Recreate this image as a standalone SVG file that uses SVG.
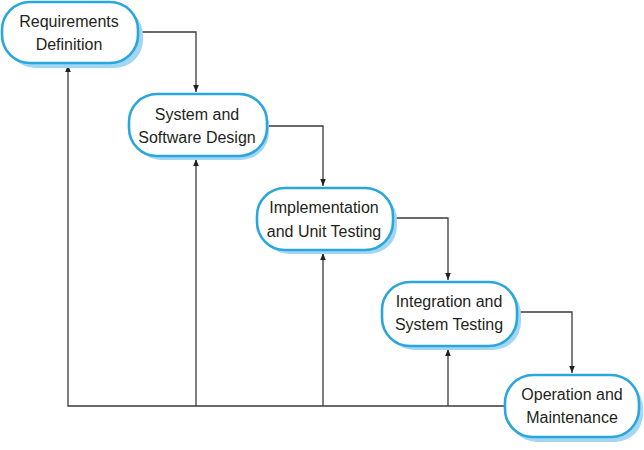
<svg xmlns="http://www.w3.org/2000/svg" width="644" height="450" viewBox="0 0 644 450">
<style>
.box{fill:#fff;stroke:#2aa6df;stroke-width:2.6}
.shadow{fill:#a3d6f0}
.lbl{font-family:"Liberation Sans",Arial,sans-serif;font-size:16px;fill:#231f20;text-anchor:middle}
.conn{fill:none;stroke:#3a3a3a;stroke-width:1.3}
</style>
<defs>
<marker id="arr" viewBox="0 0 10 10" refX="10" refY="5" markerWidth="8" markerHeight="7" orient="auto" markerUnits="userSpaceOnUse">
<path d="M0,1 L10,5 L0,9 Z" fill="#222"/>
</marker>
</defs>
<rect width="644" height="450" fill="#fff"/>
<g id="connectors">
<path class="conn" d="M140,32 H196 V92" marker-end="url(#arr)"/>
<path class="conn" d="M269,126 H323 V186" marker-end="url(#arr)"/>
<path class="conn" d="M394,218 H448 V280" marker-end="url(#arr)"/>
<path class="conn" d="M518,312 H572 V373" marker-end="url(#arr)"/>
<path class="conn" d="M504,406 H68 V65" marker-end="url(#arr)"/>
<path class="conn" d="M196,406 V159" marker-end="url(#arr)"/>
<path class="conn" d="M323,406 V253" marker-end="url(#arr)"/>
<path class="conn" d="M448,406 V349" marker-end="url(#arr)"/>
</g>
<g id="n1">
<rect class="shadow" x="7" y="7" width="136" height="61" rx="28"/>
<rect class="box" x="2" y="2" width="136" height="61" rx="28"/>
<text class="lbl" x="69" y="27">Requirements</text>
<text class="lbl" x="69" y="50">Definition</text>
</g>
<g id="n2">
<rect class="shadow" x="133" y="98" width="136" height="62" rx="28"/>
<rect class="box" x="129" y="94" width="138" height="62" rx="28"/>
<text class="lbl" x="197" y="120">System and</text>
<text class="lbl" x="197" y="143">Software Design</text>
</g>
<g id="n3">
<rect class="shadow" x="261" y="192" width="136" height="62" rx="28"/>
<rect class="box" x="257" y="188" width="136" height="62" rx="28"/>
<text class="lbl" x="324" y="213">Implementation</text>
<text class="lbl" x="324" y="237">and Unit Testing</text>
</g>
<g id="n4">
<rect class="shadow" x="386" y="286" width="135" height="64" rx="28"/>
<rect class="box" x="382" y="282" width="135" height="64" rx="28"/>
<text class="lbl" x="449" y="307">Integration and</text>
<text class="lbl" x="449" y="330">System Testing</text>
</g>
<g id="n5">
<rect class="shadow" x="509" y="380" width="134" height="62" rx="28"/>
<rect class="box" x="505" y="375" width="134" height="62" rx="28"/>
<text class="lbl" x="572" y="400">Operation and</text>
<text class="lbl" x="572" y="423">Maintenance</text>
</g>
</svg>
